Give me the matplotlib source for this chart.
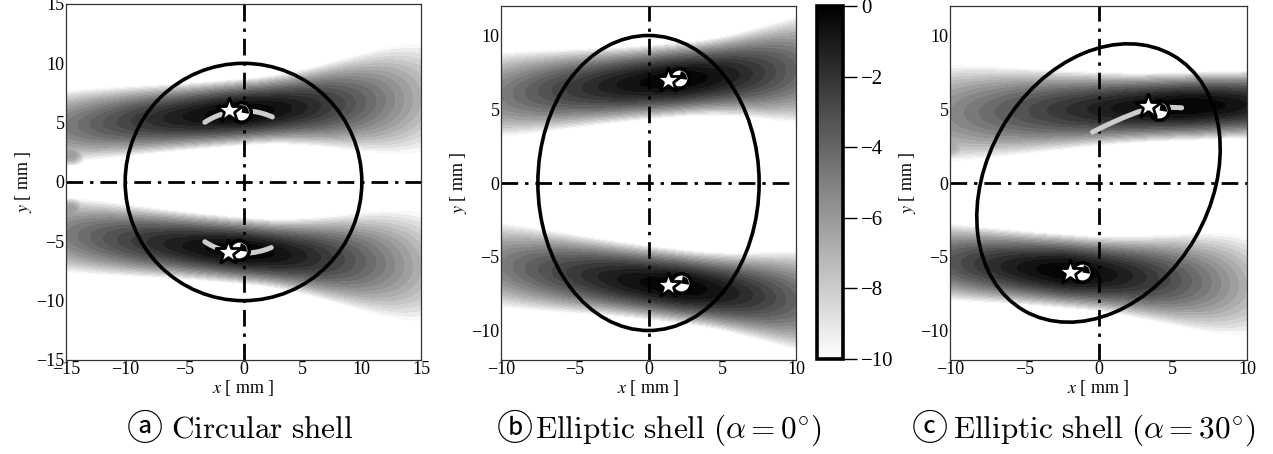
import numpy as np
import matplotlib
matplotlib.use("Agg")
import matplotlib.pyplot as plt
from matplotlib.path import Path
from matplotlib.patches import Ellipse
from matplotlib.colors import Normalize
from matplotlib.cm import ScalarMappable

plt.rcParams['font.family'] = ['Liberation Serif', 'DejaVu Sans']
plt.rcParams['mathtext.fontset'] = 'stix'
plt.rcParams['font.size'] = 13

# field levels (log scale)
levels = np.linspace(-10, 0, 21)
cbar_ticks = [0, -2, -4, -6, -8, -10]

# beam parameters, one row per beam:
# focus x, focus y, slope, half-width at focus / left / right, level at left / right edge
beams_a = [(0.0, 5.9, 0.08, 2.8, 4.2, 8.2, -5.0, -7.0),
           (0.0, -5.8, -0.09, 2.8, 4.4, 8.2, -5.0, -7.0)]
beams_b = [(2.0, 7.0, 0.085, 2.5, 4.0, 4.6, -5.0, -4.0),
           (2.0, -7.0, -0.12, 2.5, 4.0, 4.3, -5.0, -4.0)]
beams_c = [(6.0, 5.2, 0.03, 2.3, 4.8, 2.4, -5.5, -1.0),
           (-2.0, -6.0, -0.08, 2.5, 3.2, 6.0, -3.5, -7.0)]
# side lobes near the left edge: x, y, peak level
lobes_a = [(-14.6, 2.3, -6.0), (-14.6, -2.3, -6.0)]
lobes_b = []
lobes_c = [(-10.0, 2.5, -6.5)]

# shell outlines: width, height, angle
shell_a = (20.0, 20.0, 0.0)
shell_b = (15.0, 20.0, 0.0)
shell_c = (15.0, 20.0, -30.0)

# source (star) and receiver (circle) positions
stars_a = ([-1.2, -1.3], [6.1, -5.9])
rings_a = ([-0.2, -0.4], [5.9, -5.7])
stars_b = ([1.3, 1.3], [7.0, -6.9])
rings_b = ([2.1, 2.2], [7.1, -6.8])
stars_c = ([3.3, -1.9], [5.25, -6.0])
rings_c = ([4.1, -1.1], [4.95, -6.0])

# rotation paths (grey)
arc_radius = 6.0
arcs_a_deg = [(123, 66), (-123, -67)]
path_c_x = [-0.4, 0.6, 1.6, 2.6, 3.4, 4.4, 5.6]
path_c_y = [3.45, 3.95, 4.4, 4.8, 5.05, 5.15, 5.1]

lims_a = (-15, 15, -15, 15)
lims_b = (-10, 10, -12, 12)

badges = ["ⓐ", "ⓑ", "ⓒ"]
badge_x = [145, 515, 930]
captions = ["$\\mathrm{Circular\\ shell}$",
            "$\\mathrm{Elliptic\\ shell}\\ (\\alpha = 0^{\\circ})$",
            "$\\mathrm{Elliptic\\ shell}\\ (\\alpha = 30^{\\circ})$"]
caption_x = [171, 535, 953]


def field(X, Y, beams, lobes, xmin, xmax):
    f = np.full(X.shape, -20.0)
    for xf, yf, s, w0, wl, wr, al, ar in beams:
        left = X < xf
        t = np.where(left, (X - xf) / (xmin - xf), (X - xf) / (xmax - xf))
        w = np.where(left, w0 + (wl - w0) * t ** 2, w0 + (wr - w0) * t ** 2)
        amp = np.where(left, al * t ** 1.5, ar * t ** 1.5)
        yc = yf + s * (X - xf)
        f = np.maximum(f, amp - 10 * ((Y - yc) / w) ** 2)
    for lx, ly, lv in lobes:
        r2 = (X - lx) ** 2 + ((Y - ly) * 1.4) ** 2
        f = np.maximum(f, lv - 10 * r2 / 4.2)
    return np.clip(f, -10.5, -0.01)


W, H = 1273, 454
fig = plt.figure(figsize=(W / 100, H / 100), dpi=100)


def px_axes(l, r, t, b):
    return fig.add_axes([l / W, (H - b) / H, (r - l) / W, (b - t) / H])


ax_a = px_axes(66, 421, 4, 360)
ax_b = px_axes(501, 796, 6, 360)
ax_c = px_axes(950, 1247, 6, 360)
cax = px_axes(817, 843, 6, 359)

panels = [
    (ax_a, lims_a, beams_a, lobes_a, shell_a, [-15, -10, -5, 0, 5, 10, 15]),
    (ax_b, lims_b, beams_b, lobes_b, shell_b, [-10, -5, 0, 5, 10]),
    (ax_c, lims_b, beams_c, lobes_c, shell_c, [-10, -5, 0, 5, 10]),
]

wedge = Path.wedge(-10, 80)
dashdot = (0, (6, 2.5, 1.2, 2.5))

for ax, lims, beams, lobes, shell, ticks in panels:
    xmin, xmax, ymin, ymax = lims
    x = np.linspace(xmin, xmax, 500)
    y = np.linspace(ymin, ymax, 500)
    X, Y = np.meshgrid(x, y)
    F = field(X, Y, beams, lobes, xmin, xmax)
    ax.contourf(X, Y, F, levels=levels, cmap='gray_r', vmin=-10, vmax=0, zorder=1)
    ax.axhline(0, color='black', lw=2, ls=dashdot, zorder=2)
    ax.axvline(0, color='black', lw=2, ls=dashdot, zorder=2)
    ax.add_patch(Ellipse((0, 0), shell[0], shell[1], angle=shell[2], fill=False,
                         ec='black', lw=2.6, zorder=3))
    ax.set_xlim(xmin, xmax)
    ax.set_ylim(ymin, ymax)
    ax.set_xticks(ticks)
    ax.set_yticks(ticks)
    ax.tick_params(length=0, labelsize=13, pad=1)
    for sp in ax.spines.values():
        sp.set_linewidth(0.9)
        sp.set_color('#333333')
    ax.set_xlabel("$x$ [ mm ]", fontsize=13, labelpad=0)
    ax.set_ylabel("$y$ [ mm ]", fontsize=13, labelpad=2)

# grey rotation paths
for a0, a1 in arcs_a_deg:
    th = np.radians(np.linspace(a0, a1, 60))
    ax_a.plot(arc_radius * np.cos(th), arc_radius * np.sin(th), color='#cccccc',
              lw=3.6, solid_capstyle='round', zorder=4)
ax_c.plot(path_c_x, path_c_y, color='#cccccc', lw=3.6, solid_capstyle='round', zorder=4)

for ax, stars, rings in [(ax_a, stars_a, rings_a), (ax_b, stars_b, rings_b), (ax_c, stars_c, rings_c)]:
    ax.plot(rings[0], rings[1], 'o', ms=14, mfc='white', mec='black', mew=2.6, ls='none', zorder=5)
    ax.plot(rings[0], rings[1], marker=wedge, ms=11, mfc='black', mec='black', mew=0, ls='none', zorder=6)
    ax.plot(stars[0], stars[1], '*', ms=19, mfc='white', mec='black', mew=2.0, ls='none', zorder=7)

# colorbar
sm = ScalarMappable(norm=Normalize(-10, 0), cmap='gray_r')
cb = fig.colorbar(sm, cax=cax, ticks=cbar_ticks)
cb.outline.set_linewidth(2.6)
cax.tick_params(direction='out', length=10, width=1.0, labelsize=15, pad=3)
cax.set_yticklabels(["0", "−2", "−4", "−6", "−8", "−10"])

cap_y = (H - 430) / H
for b, bx, txt, cx in zip(badges, badge_x, captions, caption_x):
    fig.text(bx / W, cap_y, b, ha='center', va='center', fontsize=26,
             family=['Noto Sans CJK JP', 'DejaVu Sans'])
    fig.text(cx / W, cap_y, txt, ha='left', va='center', fontsize=22.5, math_fontfamily='cm')

fig.savefig("out.png", dpi=100)
